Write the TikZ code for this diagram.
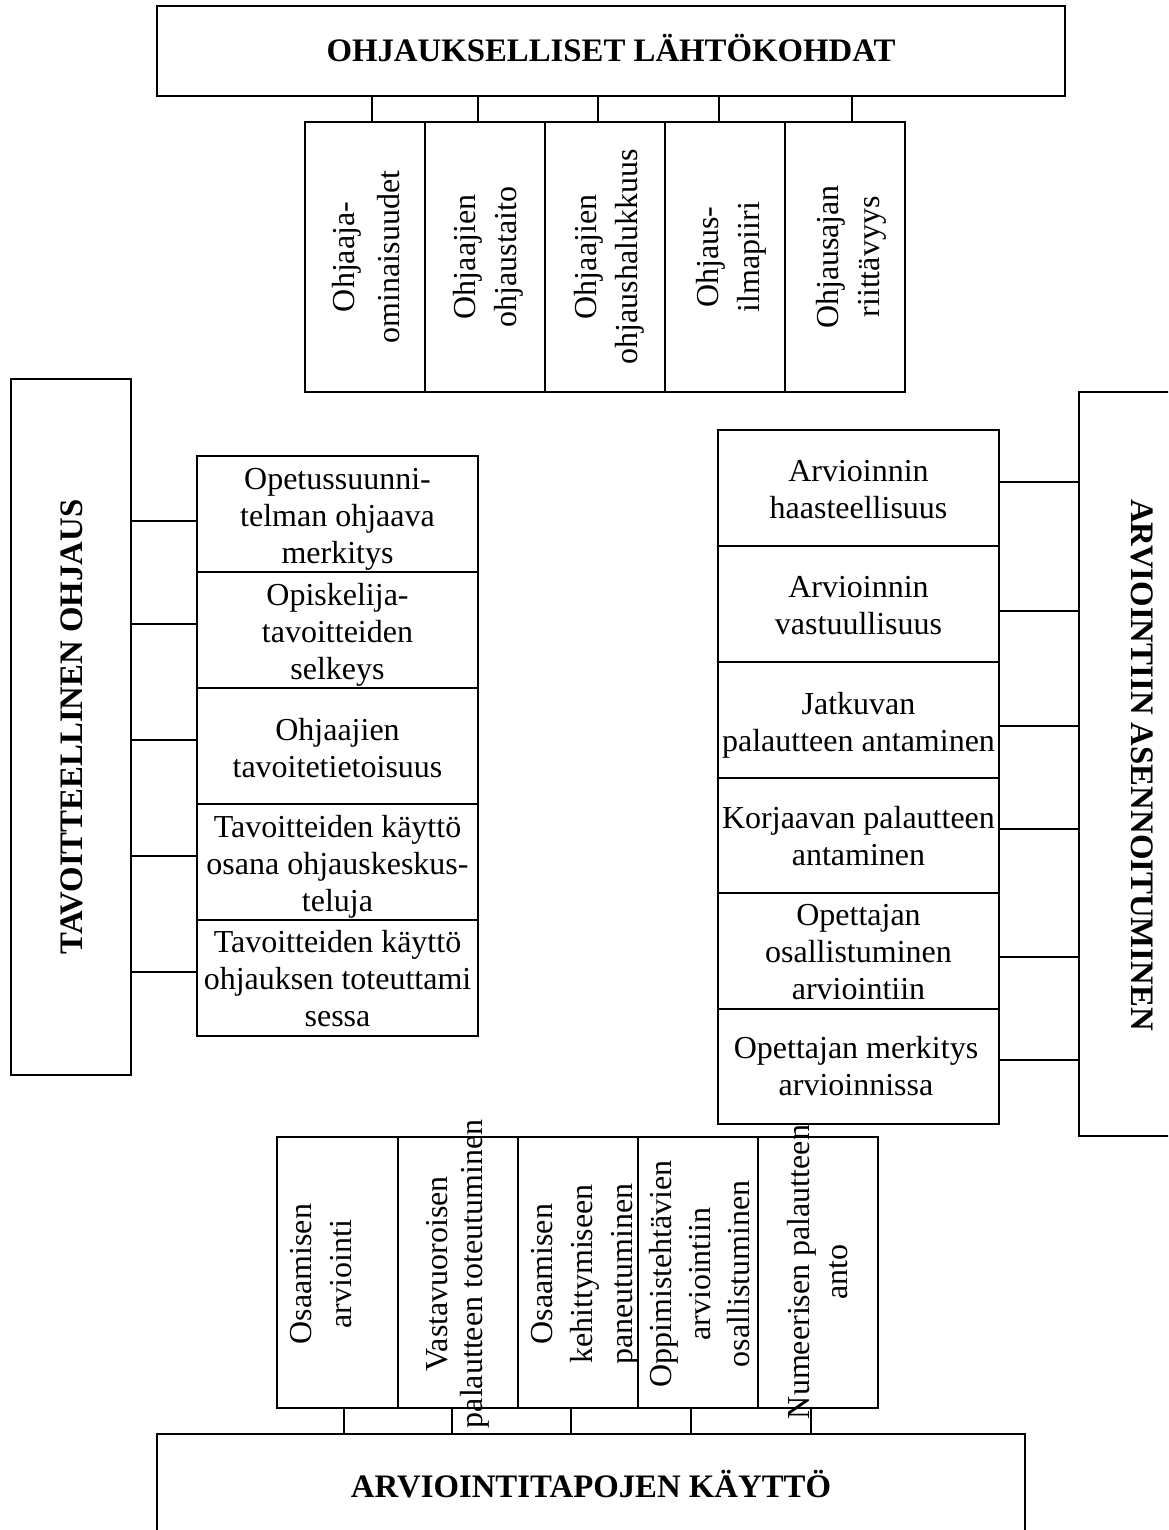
\documentclass[tikz,border=0pt]{standalone}
\usepackage{fontspec}
\setmainfont{Liberation Serif}
\usetikzlibrary{fit}

\begin{document}
\begin{tikzpicture}[x=0.5pt,y=-0.5pt,
  frame/.style={draw=black, line width=1pt, inner sep=0pt},
  link/.style={draw=black, line width=0.75pt},
  lbl/.style={align=center, inner sep=0pt, font=\fontsize{16pt}{18.5pt}\selectfont},
  vlbl/.style={align=center, inner sep=0pt, rotate=90, font=\fontsize{16pt}{20.5pt}\selectfont},
  head/.style={inner sep=0pt, font=\fontsize{16.4pt}{19pt}\selectfont\bfseries},
]
\useasboundingbox (0,0) rectangle (1168,1530);
\clip (0,0) rectangle (1168,1530);

% ---------- top: guidance starting points ----------
\node[frame, fit={(157,6) (1065,96)}] (top) {};
\node[head, anchor=base] (topt) at (611,62) {OHJAUKSELLISET LÄHTÖKOHDAT};

\node[frame, fit={(305,122) (425,392)}] (c1) {};
\node[frame, fit={(425,122) (545,392)}] (c2) {};
\node[frame, fit={(545,122) (665,392)}] (c3) {};
\node[frame, fit={(665,122) (785,392)}] (c4) {};
\node[frame, fit={(785,122) (905,392)}] (c5) {};

\node[vlbl, font=\fontsize{16pt}{22.5pt}\selectfont] (c1t) at (366,257) {Ohjaaja-\\ominaisuudet};
\node[vlbl] (c2t) at (488,257) {Ohjaajien\\ohjaustaito};
\node[vlbl] (c3t) at (609,257) {Ohjaajien\\ohjaushalukkuus};
\node[vlbl] (c4t) at (731,257) {Ohjaus-\\ilmapiiri};
\node[vlbl] (c5t) at (851,257) {Ohjausajan\\riittävyys};

\foreach \n/\xx in {1/372,2/478,3/598,4/719,5/852}{
  \coordinate (tk\n) at (\xx,0);
  \draw[link] (tk\n |- top.south) -- (tk\n |- c\n.north);
}

% ---------- left: goal-oriented guidance ----------
\node[frame, fit={(11,379) (131,1075)}] (L) {};
\node[head, rotate=90] (Lt) at (72,727) {TAVOITTEELLINEN OHJAUS};

\node[frame, fit={(197,456) (478,572)}] (l1) {};
\node[frame, fit={(197,572) (478,688)}] (l2) {};
\node[frame, fit={(197,688) (478,804)}] (l3) {};
\node[frame, fit={(197,804) (478,920)}] (l4) {};
\node[frame, fit={(197,920) (478,1036)}] (l5) {};

\node[lbl] (l1t) at (337.5,519) {Opetussuunni-\\telman ohjaava\\merkitys};
\node[lbl] (l2t) at (337.5,635) {Opiskelija-\\tavoitteiden\\selkeys};
\node[lbl] (l3t) at (337.5,748.5) {Ohjaajien\\tavoitetietoisuus};
\node[lbl] (l4t) at (337.5,867) {Tavoitteiden käyttö\\osana ohjauskeskus-\\teluja};
\node[lbl] (l5t) at (337.5,979) {Tavoitteiden käyttö\\ohjauksen toteuttami\\sessa};

\foreach \n/\yy in {1/521,2/624,3/740,4/856,5/972}{
  \coordinate (lk\n) at (0,\yy);
  \draw[link] (lk\n -| L.east) -- (lk\n -| l\n.west);
}

% ---------- right: attitude towards assessment ----------
\node[frame, fit={(1079,392) (1199,1136)}] (R) {};
\node[head, rotate=-90] (Rt) at (1142,765) {ARVIOINTIIN ASENNOITUMINEN};

\node[frame, fit={(718,430) (999,546)}] (r1) {};
\node[frame, fit={(718,546) (999,662)}] (r2) {};
\node[frame, fit={(718,662) (999,778)}] (r3) {};
\node[frame, fit={(718,778) (999,893)}] (r4) {};
\node[frame, fit={(718,893) (999,1009)}] (r5) {};
\node[frame, fit={(718,1009) (999,1124)}] (r6) {};

\node[lbl] (r1t) at (858.5,490) {Arvioinnin\\haasteellisuus};
\node[lbl] (r2t) at (858.5,606) {Arvioinnin\\vastuullisuus};
\node[lbl] (r3t) at (858.5,725) {Jatkuvan\\palautteen antaminen};
\node[lbl] (r4t) at (858.5,836) {Korjaavan palautteen\\antaminen};
\node[lbl] (r5t) at (858.5,952) {Opettajan\\osallistuminen\\arviointiin};
\node[lbl] (r6t) at (856,1066.5) {Opettajan merkitys\\arvioinnissa};

\foreach \n/\yy in {1/482,2/611,3/726,4/829,5/957,6/1060}{
  \coordinate (rk\n) at (0,\yy);
  \draw[link] (rk\n -| r\n.east) -- (rk\n -| R.west);
}

% ---------- bottom: use of assessment methods ----------
\node[frame, fit={(157,1434) (1025,1540)}] (B) {};
\node[head, anchor=base] (Bt) at (591,1497) {ARVIOINTITAPOJEN KÄYTTÖ};

\node[frame, fit={(277,1137) (398,1408)}] (b1) {};
\node[frame, fit={(398,1137) (518,1408)}] (b2) {};
\node[frame, fit={(518,1137) (638,1408)}] (b3) {};
\node[frame, fit={(638,1137) (758,1408)}] (b4) {};
\node[frame, fit={(758,1137) (878,1408)}] (b5) {};

\node[vlbl, font=\fontsize{16pt}{20pt}\selectfont] (b1t) at (321,1274) {Osaamisen\\arviointi};
\node[vlbl, font=\fontsize{16pt}{17.5pt}\selectfont] (b2t) at (457.5,1274) {Vastavuoroisen\\palautteen toteutuminen};
\node[vlbl, font=\fontsize{16pt}{20pt}\selectfont] (b3t) at (585,1274) {Osaamisen\\kehittymiseen\\paneutuminen};
\node[vlbl, font=\fontsize{16pt}{19.5pt}\selectfont] (b4t) at (700,1274) {Oppimistehtävien\\arviointiin\\osallistuminen};
\node[vlbl, font=\fontsize{16pt}{19pt}\selectfont] (b5t) at (818,1272) {Numeerisen palautteen\\anto};

\foreach \n/\xx in {1/344,2/452,3/571,4/691,5/811}{
  \coordinate (bk\n) at (\xx,0);
  \draw[link] (bk\n |- b\n.south) -- (bk\n |- B.north);
}
\end{tikzpicture}
\end{document}
